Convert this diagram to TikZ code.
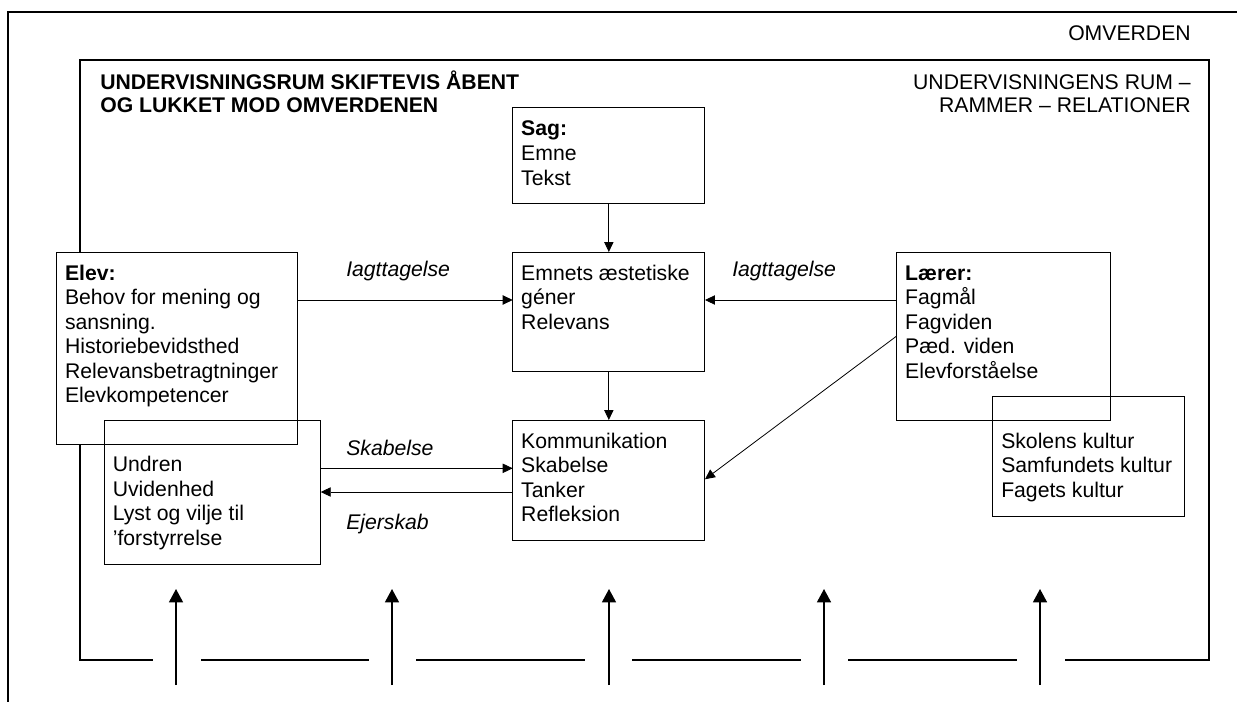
\documentclass[tikz,border=0pt]{standalone}
\usepackage{fontspec}
\setmainfont{Liberation Sans}
\usetikzlibrary{arrows.meta,calc}

% body text size and line spacing
\newcommand{\fs}{\fontsize{15.9pt}{18.4pt}\selectfont}
\newcommand{\fst}{\fontsize{15.9pt}{17.6pt}\selectfont}
% box contents: width, height, height of the first line, text
\newcommand{\boxbody}[4]{\begin{minipage}[t][#2][t]{#1}\rule{0pt}{#3}#4\end{minipage}}

\tikzset{
  frameline/.style={line width=1.2pt, line cap=rect},
  box/.style={draw, line width=0.75pt, inner xsep=6.4pt, inner ysep=0pt,
              outer sep=0pt, anchor=north west, font=\fs},
  conn/.style={line width=0.6pt, -{Triangle[length=7.5pt,width=7pt]}},
  inarrow/.style={line width=1.1pt, -{Triangle[length=10pt,width=10.5pt]}},
  lbl/.style={inner sep=0pt, anchor=base west, font=\fs\itshape},
}

\begin{document}
\begin{tikzpicture}[x=0.75pt, y=-0.75pt]
\useasboundingbox (0,0) rectangle (1237,702);

% the surroundings
\begin{scope}
  \clip (0,0) rectangle (1237,702);
  \draw[frameline] (8,12) rectangle (1260,730);
\end{scope}
\node[inner sep=0pt, anchor=base east, font=\fs] (omv) at (1191,41) {OMVERDEN};

% the teaching room, open at the bottom
\draw[frameline] (151.7,660) -- (80,660) -- (80,60) -- (1209,60) -- (1209,660) -- (1066,660);
\draw[frameline] (201.3,660) -- (367.7,660);
\draw[frameline] (417,660) -- (584,660);
\draw[frameline] (632.7,660) -- (800,660);
\draw[frameline] (849,660) -- (1016,660);

\node[anchor=north west, inner sep=0pt, align=left, font=\fst\bfseries] (title) at (100,69)
  {\rule{0pt}{15pt}UNDERVISNINGSRUM SKIFTEVIS ÅBENT\\OG LUKKET MOD OMVERDENEN};
\node[anchor=north east, inner sep=0pt, align=right, font=\fst] (rum) at (1191,69)
  {\rule{0pt}{15pt}UNDERVISNINGENS RUM –\\RAMMER – RELATIONER};

% boxes
\node[box] (sag) at (512.7,108)
  {\boxbody{131.4pt}{72pt}{21pt}{\textbf{Sag:}\\Emne\\Tekst}};
\node[box] (emnets) at (512.7,252)
  {\boxbody{131.4pt}{89.8pt}{21pt}{Emnets æstetiske\\géner\\Relevans}};
\node[box] (komm) at (512.7,420)
  {\boxbody{131.4pt}{90pt}{21pt}{Kommunikation\\Skabelse\\Tanker\\Refleksion}};
\node[box, fill=white] (elev) at (56.5,252)
  {\boxbody{167.6pt}{144pt}{21pt}{\textbf{Elev:}\\Behov for mening og\\sansning.\\Historiebevidsthed\\Relevansbetragtninger\\Elevkompetencer}};
\node[box] (undren) at (104.3,420)
  {\boxbody{149.5pt}{108pt}{38.6pt}{Undren\\Uvidenhed\\Lyst og vilje til\\'forstyrrelse}};
\node[box] (laerer) at (896.7,252)
  {\boxbody{147.7pt}{126pt}{21pt}{\textbf{Lærer:}\\Fagmål\\Fagviden\\Pæd. viden\\Elevforståelse}};
\node[box] (kultur) at (992.7,396)
  {\boxbody{131.4pt}{90pt}{39pt}{Skolens kultur\\Samfundets kultur\\Fagets kultur}};

% connectors
\draw[conn] (sag) -- (emnets);
\draw[conn] (emnets) -- (komm);
\draw[conn] ($(elev.north east)+(0,48)$) -- ($(emnets.north west)+(0,48)$);
\draw[conn] ($(laerer.north west)+(0,48)$) -- ($(emnets.north east)+(0,48)$);
\draw[conn] ($(laerer.north west)+(0,84)$) -- ($(komm.north east)+(0,59.3)$);
\draw[conn] ($(undren.north east)+(0,48.3)$) -- ($(komm.north west)+(0,48.3)$);
\draw[conn] ($(komm.north west)+(0,72)$) -- ($(undren.north east)+(0,72)$);

% connector labels
\node[lbl] (obsl) at (346,276) {Iagttagelse};
\node[lbl] (obsr) at (732,276) {Iagttagelse};
\node[lbl] (skab) at (346,455) {Skabelse};
\node[lbl] (ejer) at (346,529) {Ejerskab};

% influences entering through the openings
\foreach \i/\x in {1/176, 2/392, 3/609, 4/824, 5/1040} {
  \coordinate (in\i) at (\x,685);
  \coordinate (to\i) at (\x,589);
  \draw[inarrow] (in\i) -- (to\i);
}
\end{tikzpicture}
\end{document}
